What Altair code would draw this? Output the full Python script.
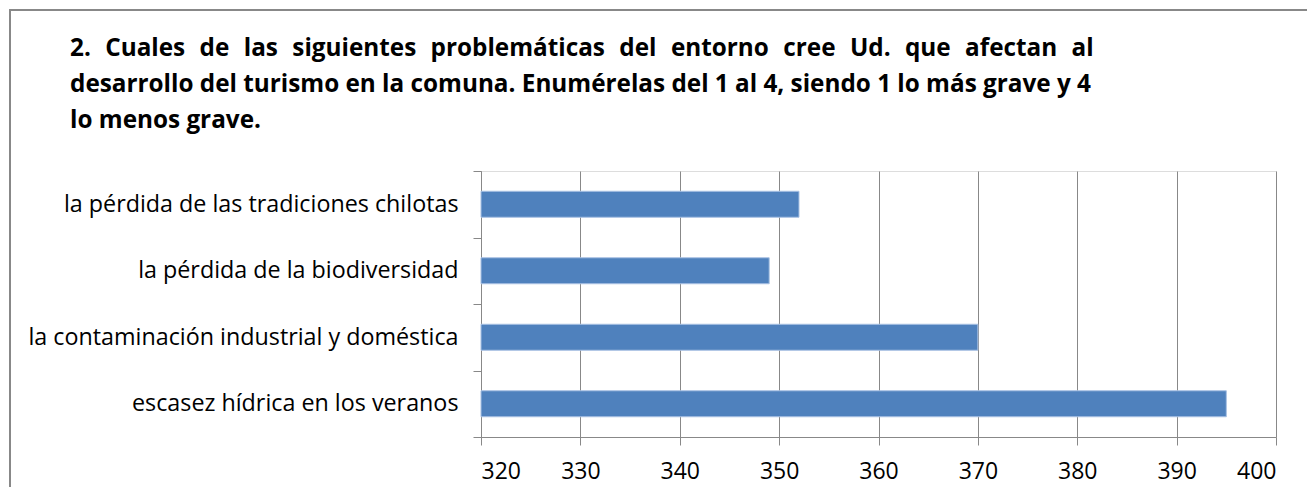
import altair as alt
import pandas as pd

categories = [
    "la pérdida de las tradiciones chilotas",
    "la pérdida de la biodiversidad",
    "la contaminación industrial y doméstica",
    "escasez hídrica en los veranos",
]
values = [352, 349, 370, 395]
title_lines = [
    "2. Cuales de las siguientes problemáticas del entorno cree Ud. que afectan al",
    "desarrollo del turismo en la comuna. Enumérelas del 1 al 4, siendo 1 lo más grave y 4",
    "lo menos grave.",
]
x_ticks = [320, 330, 340, 350, 360, 370, 380, 390, 400]

df = pd.DataFrame({"cat": categories, "val": values})

FONT = "Open Sans"
GRID = "#888888"

bars = alt.Chart(df).mark_bar(
    size=26, color="#4F81BD", stroke="#A9C1E3", strokeWidth=1
).encode(
    x=alt.X(
        "val:Q",
        scale=alt.Scale(domain=[320, 400], zero=False, nice=False),
        axis=alt.Axis(
            values=x_ticks, title=None, grid=True, gridColor=GRID, gridOpacity=1,
            domainColor=GRID, tickColor=GRID, tickSize=8, labelFontSize=23,
            labelFont=FONT, labelColor="#000000", labelPadding=15,
        ),
    ),
    x2=alt.X2(datum=320),
    y=alt.Y(
        "cat:N",
        sort=categories,
        scale=alt.Scale(paddingInner=0, paddingOuter=0),
        axis=alt.Axis(
            title=None, domainColor=GRID, tickColor=GRID, tickSize=8,
            tickBand="extent", labelFontSize=23.3, labelFont=FONT,
            labelColor="#000000", labelPadding=15, labelLimit=600,
        ),
    ),
)

border = alt.Chart(df).mark_rect(
    fill=None, stroke="#888888", strokeWidth=1.5
).encode(
    x=alt.value(-471), x2=alt.value(1000), y=alt.value(-161), y2=alt.value(600)
)

# first line is justified in the original: widen its word gaps
display_lines = [title_lines[0].replace(" ", " \u2004")] + title_lines[1:]

title_layers = []
for line, yoff in zip(display_lines, [-115, -79, -43]):
    title_layers.append(
        alt.Chart(pd.DataFrame({"t": [line]})).mark_text(
            align="left", baseline="alphabetic", font=FONT, fontSize=24.3,
            fontWeight="bold", color="#000000",
        ).encode(text="t:N", x=alt.value(-411), y=alt.value(yoff))
    )

chart = alt.layer(border, bars, *title_layers).properties(
    width=795,
    height=266,
    autosize=alt.AutoSizeParams(type="none"),
    padding={"left": 473, "top": 163, "right": 31, "bottom": 50},
).configure_view(stroke=None).configure(background="white")

chart.save("out.html", embed_options={"renderer": "svg", "actions": False})
